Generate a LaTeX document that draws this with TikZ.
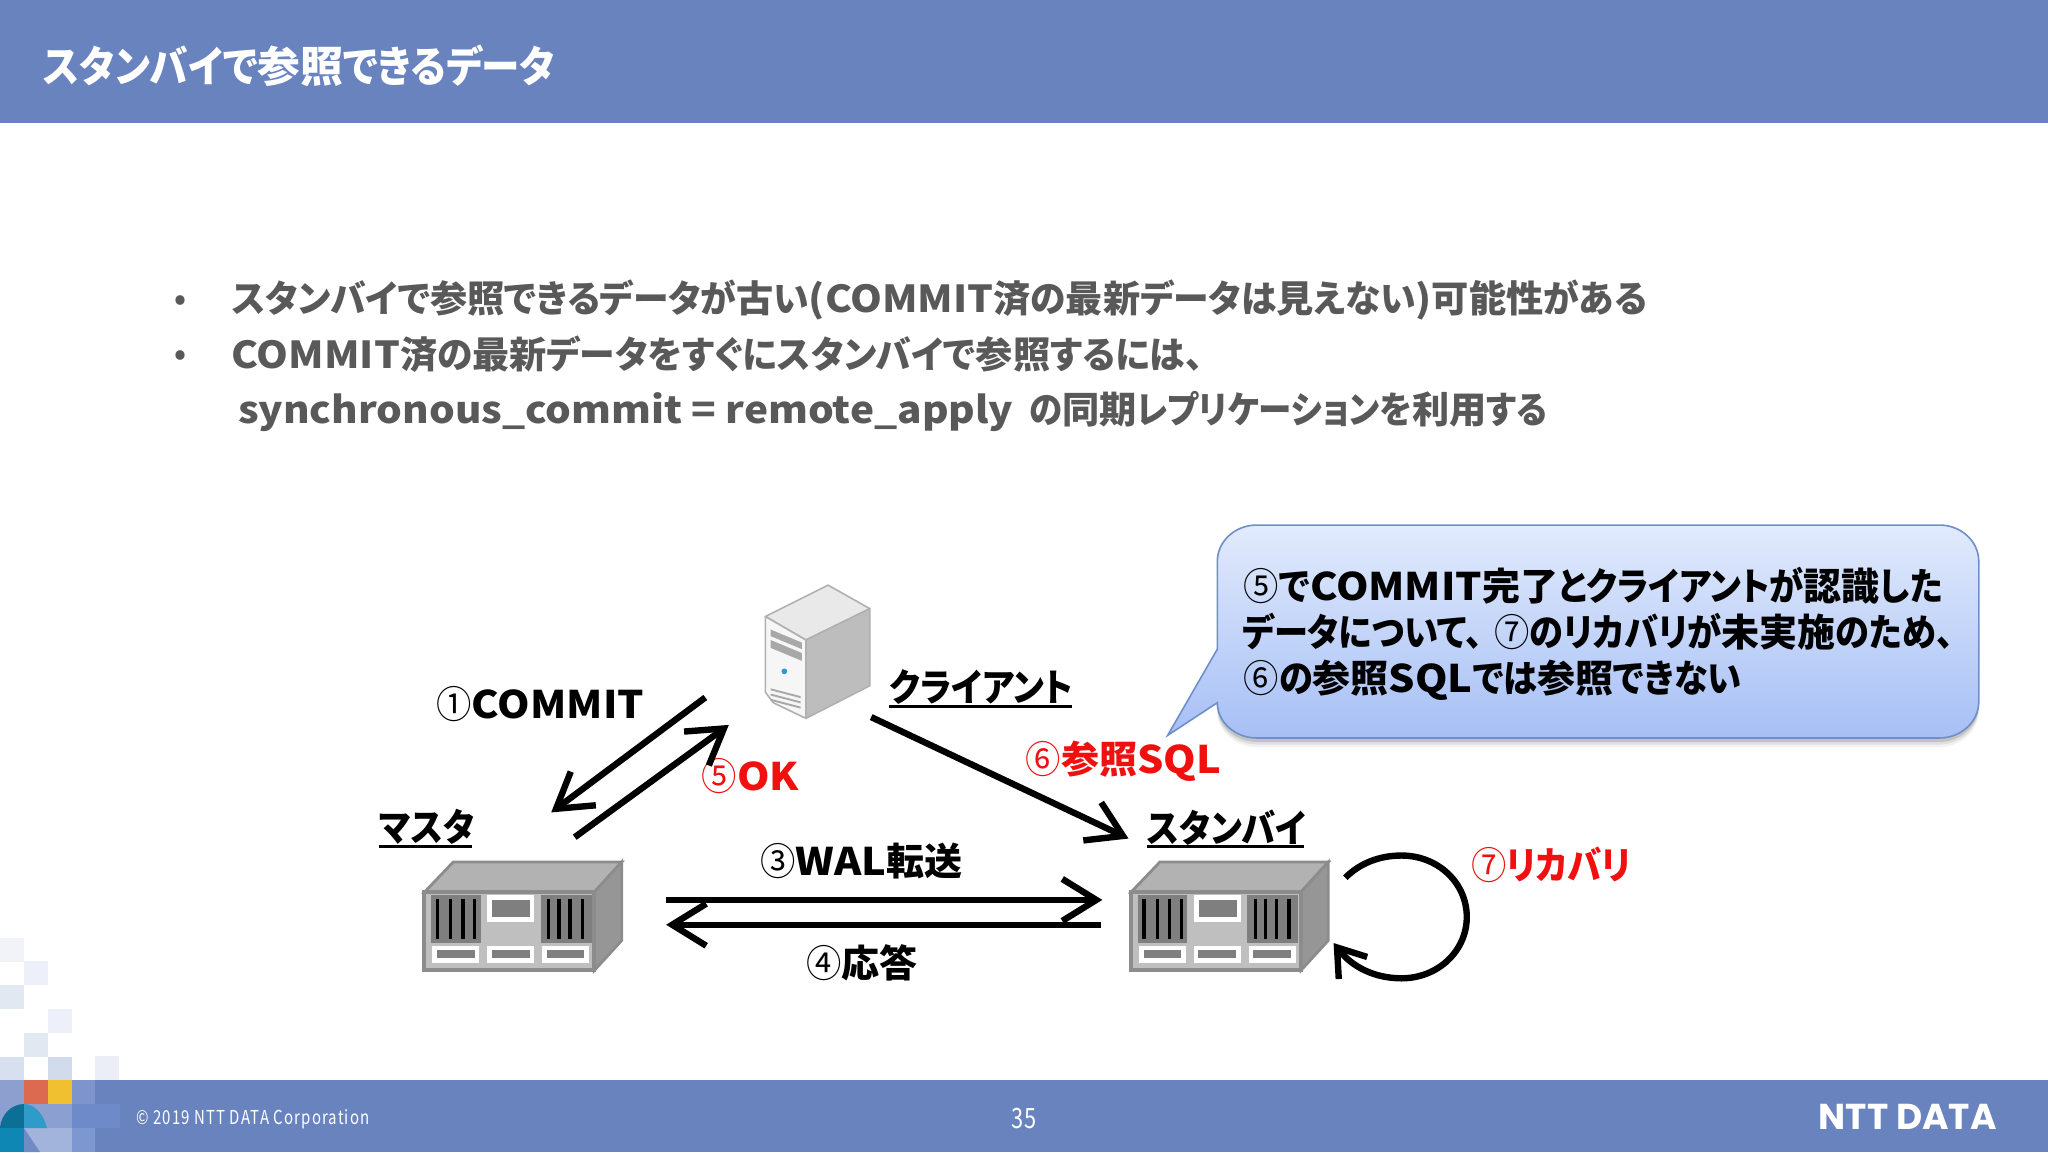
\documentclass[tikz,border=0pt]{standalone}
\usepackage{fontspec}
\usetikzlibrary{arrows.meta}
\setmainfont{Noto Sans CJK JP}[RawFeature={+palt}]
\newfontfamily\kanafont{Noto Sans CJK JP}[RawFeature={+palt},FakeStretch=0.9]
\newfontfamily\kanawide{Noto Sans CJK JP}[RawFeature={+palt},FakeStretch=0.96]
\newfontfamily\latfont{Noto Sans CJK JP}[FakeStretch=1.09]
\newfontfamily\circfont{Noto Sans CJK JP}[FakeStretch=0.93]
\newfontfamily\footfont{Noto Sans CJK JP}[FakeStretch=0.78,LetterSpace=6]
\newfontfamily\logofont{Poppins}
\newcommand{\K}[1]{{\kanafont #1}}
\newcommand{\Kw}[1]{{\kanawide #1}}
\newcommand{\Lt}[1]{{\latfont #1}}
\newcommand{\Cn}[1]{{\circfont\mdseries #1}}
\definecolor{band}{HTML}{6983BF}
\definecolor{bodytxt}{HTML}{595959}
\definecolor{redtxt}{HTML}{F01010}
\definecolor{frameg}{HTML}{8C8C8C}
\definecolor{darkg}{HTML}{7F7F7F}
\definecolor{lightg}{HTML}{BFBFBF}
\definecolor{topg}{HTML}{B2B2B2}
\definecolor{sideg}{HTML}{969696}
\definecolor{towerl}{HTML}{B0B0B0}
\definecolor{slat}{HTML}{A8A8A8}
\definecolor{caltop}{HTML}{E2EBFC}
\definecolor{calbot}{HTML}{A6BFF5}
\definecolor{caledge}{HTML}{6F8FCB}
\tikzset{
  hex/.code={\definecolor{hxc}{HTML}{#1}\pgfkeysalso{fill=hxc}},
  lbl/.style={inner sep=0pt,anchor=west,font=\fontsize{19}{19}\bfseries\selectfont,text height=16.4pt,text depth=2pt},
  redlbl/.style={lbl,text=redtxt},
  bodyline/.style={lbl,text=bodytxt,font=\fontsize{18.6}{18.6}\bfseries\selectfont},
  bulletmark/.style={lbl,text=bodytxt,font=\fontsize{15}{15}\bfseries\selectfont},
  calline/.style={lbl,font=\fontsize{19}{19}\bfseries\selectfont},
  flow/.style={line width=3.2pt,line join=miter,-{Straight Barb[length=17pt,width=21pt]}},
  loopflow/.style={line width=3.2pt,line join=miter,-{Straight Barb[length=13pt,width=18pt]}},
  ul/.style={line width=1.2pt},
}
\newcommand{\serverunit}[1]{%
\begin{scope}[shift={#1}]
  \fill[topg,draw=frameg,line width=1.4pt] (325,683)--(347,660)--(476,660)--(455,683)--cycle;
  \fill[sideg,draw=frameg,line width=1.4pt] (455,683)--(476,660)--(476,720)--(455,743)--cycle;
  \fill[lightg,draw=frameg,line width=2pt] (325,683) rectangle (455,743);
  \fill[darkg] (330,685) rectangle (368,722);
  \fill[darkg] (414,685) rectangle (453,722);
  \foreach \bx in {335,345,354.5,363.5,420,428,436.5,446}
    \fill[black] (\bx-1.3,688) rectangle (\bx+1.3,719);
  \fill[white] (373,685) rectangle (409,706);
  \fill[darkg] (377,689) rectangle (406,702);
  \foreach \bx in {331,373,415}{
    \fill[white] (\bx,724) rectangle (\bx+36,737);
    \fill[darkg] (\bx+3.5,727.5) rectangle (\bx+32.5,733.5);}
\end{scope}}
\begin{document}
\begin{tikzpicture}[x=0.65306pt,y=-0.65306pt]
\useasboundingbox (0,0) rectangle (1568,882);
\fill[white] (0,0) rectangle (1568,882);
\fill[band] (0,0) rectangle (1568,94);
\fill[band] (0,827) rectangle (1568,882);
% mosaic
\begin{scope}[x=0.5pt,y=-0.5pt]
  \fill[hex=F1F3F8] (0,938) rectangle (24,962);
  \fill[hex=EDF0F8] (24,961) rectangle (48,985);
  \fill[hex=E2E8F2] (0,985) rectangle (24,1009);
  \fill[hex=EDF0F8] (48,1009) rectangle (72,1033);
  \fill[hex=E2E8F2] (24,1033) rectangle (48,1057);
  \fill[hex=D8DFEE] (0,1057) rectangle (24,1080);
  \fill[hex=D2DBEC] (48,1057) rectangle (72,1080);
  \fill[hex=EBEEF7] (95,1056) rectangle (119,1080);
  \fill[hex=8C9FCF] (0,1080) rectangle (24,1104);
  \fill[hex=DB6A50] (24,1080) rectangle (48,1104);
  \fill[hex=F0C030] (48,1080) rectangle (72,1104);
  \fill[hex=7D95CC] (72,1080) rectangle (95,1104);
  \fill[hex=8BA0D0] (0,1104) rectangle (72,1128);
  \fill[hex=6E8AC8] (72,1104) rectangle (120,1128);
  \fill[hex=7D97D0] (72,1128) rectangle (95,1152);
  \fill[hex=A3B4DC] (24,1128) rectangle (72,1152);
  \fill[hex=0E6F96] (0,1128) .. controls (1,1114) and (12,1104) .. (24,1104) -- (24,1128) -- cycle;
  \fill[hex=2F9BC8] (24,1104) .. controls (36,1104) and (44,1116) .. (47,1128) -- (24,1128) -- cycle;
  \fill[hex=0E87B5] (0,1128) rectangle (24,1152);
  \fill[hex=6F8CC5] (24,1128) -- (40,1152) -- (24,1152) -- cycle;
\end{scope}
% header and body text
\node[lbl,text=white,font=\fontsize{21.4}{21.4}\bfseries\selectfont,text height=17.9pt,text depth=1.7pt] (title) at (33,51) {\K{スタンバイで}参照\K{できるデータ}};
\node[bulletmark] (b1) at (133,226) {•};
\node[bulletmark] (b2) at (133,268) {•};
\node[bodyline] (l1) at (177,228) {\Kw{スタンバイで}参照\Kw{できるデータが}古\Kw{い}\Lt{(COMMIT}済\Kw{の}最新\Kw{データは}見\Kw{えない}\Lt{)}可能性\Kw{がある}};
\node[bodyline] (l2) at (177,271) {\Lt{COMMIT}済\Kw{の}最新\Kw{データをすぐにスタンバイで}参照\Kw{するには、}};
\node[bodyline] (l3) at (182,313) {\Lt{synchronous\_commit = remote\_apply}\hspace{8pt}\K{の}同期\K{レプリケーションを}利用\K{する}};
% footer text
\node[inner sep=0pt,anchor=west,text=white,font=\footfont\fontsize{9.6}{9.6}\selectfont] (copy) at (104,857) {© 2019 NTT DATA Corporation};
\node[inner sep=0pt,text=white,font=\footfont\fontsize{14}{14}\selectfont] (pg) at (784,856) {35};
\node[inner sep=0pt,anchor=east,text=white,font=\logofont\fontsize{18}{18}\bfseries\selectfont] (logo) at (1529,855) {NTT DATA};
% servers
\serverunit{(0,0)}
\serverunit{(541,0)}
% client tower
\fill[hex=E9E9E9,draw=towerl,line width=.8pt,line join=round] (586,472)--(634,448)--(666,466)--(617,490)--cycle;
\fill[hex=BDBDBD,draw=towerl,line width=.8pt,line join=round] (617,490)--(666,466)--(666,525)--(617,550)--cycle;
\fill[hex=F6F6F6,draw=towerl,line width=.8pt,line join=round] (586,472)--(617,490)--(617,550)--(592,538)--(586,530)--cycle;
\fill[slat] (590,482)--(614,492)--(614,497)--(590,487)--cycle;
\fill[slat] (590,490)--(614,500)--(614,506)--(590,496)--cycle;
\fill[hex=2E9BD0] (600.5,514) circle (2.2);
\foreach \sy in {527,531,535}
  \fill[slat] (590,\sy)--(613,\sy+6)--(613,\sy+7.5)--(590,\sy+1.5)--cycle;
% callout
\foreach \o/\q in {7/.05,5/.08,3/.12}
\fill[black,opacity=\q,yshift=-\o*0.65306pt]
  (932,430) .. controls (932,414) and (946,402) .. (962,402) -- (1485,402) .. controls (1501,402) and (1515,414) .. (1515,430) -- (1515,537) .. controls (1515,553) and (1501,565) .. (1485,565) -- (962,565) .. controls (946,565) and (932,553) .. (932,538) -- cycle;
\shade[top color=caltop,bottom color=calbot,draw=caledge,line width=.8pt]
  (932,430) .. controls (932,414) and (946,402) .. (962,402) -- (1485,402) .. controls (1501,402) and (1515,414) .. (1515,430) -- (1515,537) .. controls (1515,553) and (1501,565) .. (1485,565) -- (962,565) .. controls (946,565) and (932,553) .. (932,538) -- (894,563) -- (932,497) -- cycle;
\node[calline] (c1) at (952,449) {\Cn{⑤}\K{で}\Lt{COMMIT}完了\K{とクライアントが}認識\K{した}};
\node[calline] (c2) at (951,484) {\K{データについて、}\hspace{6pt}\Cn{⑦}\K{のリカバリが}未実施\K{のため、}};
\node[calline] (c3) at (952,519) {\Cn{⑥}\K{の}参照\Lt{SQL}\K{では}参照\K{できない}};
% labels
\node[lbl] (tc) at (334,539) {\Cn{①}\Lt{COMMIT}};
\node[redlbl] (tok) at (537,594) {\Cn{⑤}\Lt{OK}};
\node[lbl] (nc) at (681,526) {\K{クライアント}};
\node[redlbl] (tq) at (785,581) {\Cn{⑥}参照\Lt{SQL}};
\node[lbl] (nm) at (290,633) {\K{マスタ}};
\node[lbl] (ns) at (878,634) {\K{スタンバイ}};
\node[lbl] (tw) at (582,659) {\Cn{③}\Lt{WAL}転送};
\node[lbl] (tr) at (617,737) {\Cn{④}応答};
\node[redlbl] (trc) at (1126,662) {\Cn{⑦}\K{リカバリ}};
\draw[ul] (681,541) -- (821,541);
\draw[ul] (290,648) -- (361,648);
\draw[ul] (878,648) -- (998,648);
% connector ends
\coordinate (a1s) at (540,534); \coordinate (a1e) at (422,622);
\coordinate (a2s) at (440,641); \coordinate (a2e) at (558,555);
\coordinate (a3s) at (667,549); \coordinate (a3e) at (864,642);
\coordinate (a4s) at (510,689); \coordinate (a4e) at (844,689);
\coordinate (a5s) at (843,708); \coordinate (a5e) at (510,708);
\coordinate (a6s) at (1030,672); \coordinate (a6e) at (1021,722);
\draw[flow] (a1s) -- (a1e);
\draw[flow] (a2s) -- (a2e);
\draw[flow] (a3s) -- (a3e);
\draw[flow] (a4s) -- (a4e);
\draw[flow] (a5s) -- (a5e);
\draw[loopflow] (a6s) .. controls (1041,661) and (1056,655) .. (1073,655) .. controls (1101,655) and (1123,676) .. (1123,702) .. controls (1123,728) and (1101,749) .. (1073,749) .. controls (1052,749) and (1035,740) .. (a6e);
\end{tikzpicture}
\end{document}
